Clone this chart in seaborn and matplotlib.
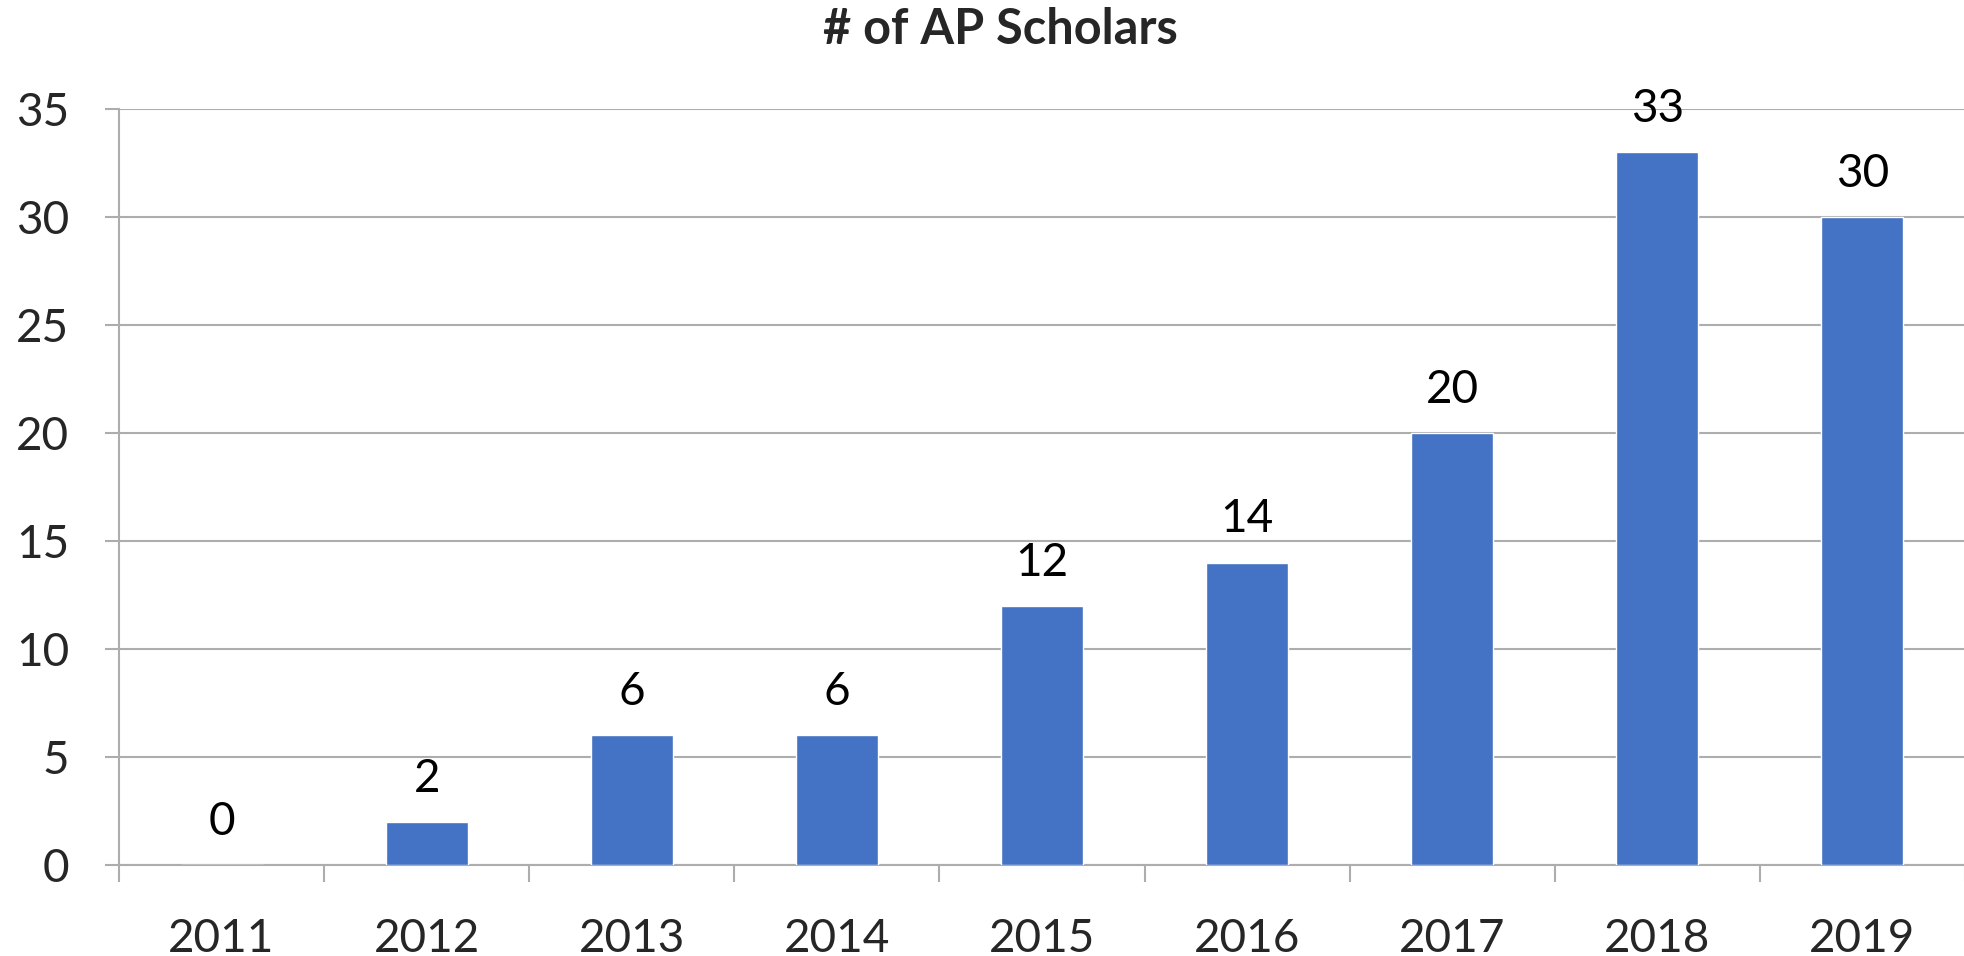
import numpy as np
import pandas as pd
import matplotlib
matplotlib.use("Agg")
import matplotlib.pyplot as plt
import seaborn as sns

years = ["2011", "2012", "2013", "2014", "2015", "2016", "2017", "2018", "2019"]
scholars = [0, 2, 6, 6, 12, 14, 20, 33, 30]
title = "# of AP Scholars"

sns.set_theme(style="white")
plt.rcParams["font.family"] = ["Lato", "DejaVu Sans"]

W, H = 1965, 956
fig = plt.figure(figsize=(W / 100, H / 100), dpi=100)
left, right, top, bottom = 119, 1965, 109, 865
ax = fig.add_axes([left / W, (H - bottom) / H, (right - left) / W, (bottom - top) / H])

df = pd.DataFrame({"year": years, "n": scholars})
sns.barplot(data=df, x="year", y="n", color="#4472C4", width=0.4, saturation=1, ax=ax, zorder=3)

grid_c = "#ADADAD"
ax.set_ylim(0, 35)
ax.set_xlim(-0.5, len(years) - 0.5)
ax.set_yticks(np.arange(0, 36, 5))
ax.yaxis.grid(True, color=grid_c, linewidth=1.5, zorder=0)
ax.set_axisbelow(True)

# category boundary ticks (major, unlabeled) and centered labels (minor, no marks)
ax.set_xticks(np.arange(-0.5, len(years), 1))
ax.set_xticklabels([])
ax.set_xticks(np.arange(len(years)), minor=True)
ax.set_xticklabels(years, minor=True)
ax.tick_params(axis="x", which="major", length=12, width=1.5, color=grid_c, bottom=True)
ax.tick_params(axis="x", which="minor", length=0, pad=38, labelsize=33)
ax.tick_params(axis="y", length=10, width=1.5, color=grid_c, left=True, pad=26, labelsize=33)

for s in ["top", "right"]:
    ax.spines[s].set_visible(False)
for s in ["left", "bottom"]:
    ax.spines[s].set_color(grid_c)
    ax.spines[s].set_linewidth(1.5)

ax.set_xlabel("")
ax.set_ylabel("")

for i, v in enumerate(scholars):
    ax.annotate(str(v), (i, v), xytext=(0, 16), textcoords="offset points",
                ha="center", va="bottom", fontsize=33, color="black", clip_on=False)

fig.text(1000 / W, 1 - 30 / H, title, ha="center", va="center", fontsize=35, fontweight="bold")

fig.savefig("out.png", dpi=100)
